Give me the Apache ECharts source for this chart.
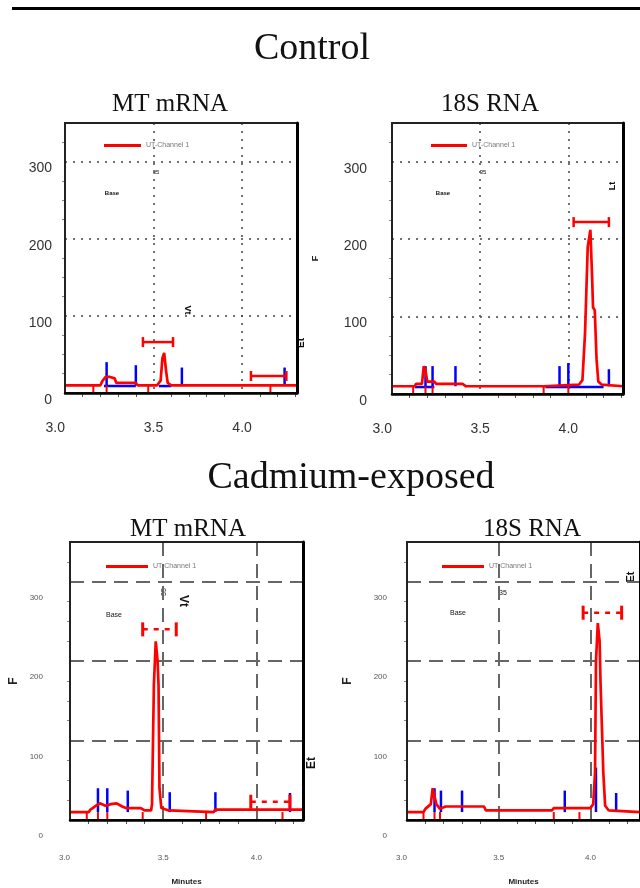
<!DOCTYPE html>
<html>
<head>
<meta charset="utf-8">
<script src="https://cdn.jsdelivr.net/npm/echarts@6/dist/echarts.min.js"></script>
<style>
html,body{margin:0;padding:0;background:#fff;}
#chart{width:640px;height:888px;}
</style>
</head>
<body>
<div id="chart"></div>
<script>
// ---------- data ----------
const groupTitles = ['Control', 'Cadmium-exposed'];
const panelTitles = ['MT mRNA', '18S RNA', 'MT mRNA', '18S RNA'];
const xTickLabels = ['3.0', '3.5', '4.0'];
const yTickLabels = ['0', '100', '200', '300'];
const legendName = 'UT-Channel 1';
const xAxisName = 'Minutes';

// Control, MT mRNA
const ctrlMtX = [3.0, 3.20, 3.21, 3.23, 3.25, 3.28, 3.29, 3.40, 3.41, 3.52, 3.54, 3.55, 3.56, 3.57, 3.58, 3.60, 4.31];
const ctrlMtY = [10, 10, 15, 21, 21, 19, 13, 13, 10, 10, 16, 45, 52, 30, 13, 10, 10];
const ctrlMtBlueX = [3.235, 3.40, 3.66, 4.24];
const ctrlMtBlueTop = [40, 36, 33, 33];
const ctrlMtBlueSegA = [3.22, 3.53];
const ctrlMtBlueSegB = [3.40, 3.60];
const ctrlMtDropX = [3.16, 3.235, 3.47, 4.16];
const ctrlMtBrX1 = [3.44, 4.05];
const ctrlMtBrX2 = [3.61, 4.25];
const ctrlMtBrY = [66, 22];

// Control, 18S RNA
const ctrl18X = [3.0, 3.13, 3.135, 3.17, 3.18, 3.19, 3.20, 3.24, 3.25, 3.40, 3.42, 3.86, 3.87, 4.06, 4.08, 4.095, 4.11, 4.125, 4.135, 4.14, 4.15, 4.16, 4.17, 4.19, 4.31];
const ctrl18Y = [10, 10, 13, 13, 36, 30, 16, 16, 13, 13, 10, 10, 12, 12, 18, 80, 190, 212, 150, 112, 108, 45, 16, 12, 10];
const ctrl18BlueX = [3.19, 3.23, 3.36, 3.95, 4.0, 4.23];
const ctrl18BlueTop = [36, 36, 36, 36, 40, 32];
const ctrl18BlueSegA = [3.13, 3.87, 4.0];
const ctrl18BlueSegB = [3.24, 4.0, 4.2];
const ctrl18DropX = [3.12, 3.19, 3.23, 3.86, 4.0];
const ctrl18BrX1 = [4.03];
const ctrl18BrX2 = [4.23];
const ctrl18BrY = [222];

// Cadmium, MT mRNA
const cdMtX = [3.0, 3.10, 3.11, 3.14, 3.16, 3.19, 3.22, 3.25, 3.28, 3.30, 3.38, 3.40, 3.435, 3.44, 3.45, 3.46, 3.47, 3.475, 3.48, 3.49, 3.53, 3.54, 3.77, 3.78, 4.25];
const cdMtY = [10, 10, 13, 18, 21, 18, 20, 21, 17, 15, 15, 12, 12, 20, 170, 225, 200, 170, 40, 15, 12, 10, 10, 13, 13];
const cdMtBlueX = [3.15, 3.20, 3.31, 3.535, 3.78, 4.18];
const cdMtBlueTop = [40, 40, 37, 35, 35, 34];
const cdMtDropX = [3.09, 3.15, 3.20, 3.39, 3.73, 4.14];
const cdMtBrX1 = [3.39, 3.97];
const cdMtBrX2 = [3.57, 4.18];
const cdMtBrY = [240, 23];

// Cadmium, 18S RNA
const cd18X = [3.0, 3.09, 3.10, 3.13, 3.14, 3.15, 3.16, 3.18, 3.21, 3.42, 3.43, 3.79, 3.80, 4.0, 4.015, 4.025, 4.03, 4.04, 4.05, 4.055, 4.065, 4.07, 4.08, 4.10, 4.27];
const cd18Y = [10, 10, 14, 20, 40, 38, 20, 14, 17, 17, 12, 12, 15, 15, 20, 60, 200, 248, 225, 172, 172, 60, 18, 12, 10];
const cd18BlueX = [3.15, 3.185, 3.30, 3.86, 4.03, 4.14];
const cd18BlueTop = [40, 37, 37, 37, 66, 34];
const cd18DropX = [3.09, 3.15, 3.18, 3.80, 3.94];
const cd18BrX1 = [3.96];
const cd18BrX2 = [4.17];
const cd18BrY = [261];

const baseline = 10;

// ---------- helpers ----------
function pairs(xs, ys) { return xs.map((x, i) => [x, ys[i]]); }
function vticks(xs, tops, base) { return xs.map((x, i) => [x, tops[i], base]); }
function drops(xs, base) { return xs.map(x => [x, base, 0]); }
function hsegs(a, b, y) { return a.map((x, i) => [x, b[i], y]); }
function brackets(x1, x2, ys) { return x1.map((x, i) => [x, x2[i], ys[i]]); }

function vtickSeries(idx, data, color, width) {
  return {
    type: 'custom', xAxisIndex: idx, yAxisIndex: idx, clip: true, silent: true,
    data: data,
    renderItem: function (params, api) {
      const p1 = api.coord([api.value(0), api.value(1)]);
      const p2 = api.coord([api.value(0), api.value(2)]);
      return { type: 'line', shape: { x1: p1[0], y1: p1[1], x2: p2[0], y2: p2[1] },
        style: { stroke: color, lineWidth: width } };
    }
  };
}
function hsegSeries(idx, data, color, width) {
  return {
    type: 'custom', xAxisIndex: idx, yAxisIndex: idx, clip: true, silent: true,
    data: data,
    renderItem: function (params, api) {
      const p1 = api.coord([api.value(0), api.value(2)]);
      const p2 = api.coord([api.value(1), api.value(2)]);
      return { type: 'line', shape: { x1: p1[0], y1: p1[1], x2: p2[0], y2: p2[1] },
        style: { stroke: color, lineWidth: width } };
    }
  };
}
function bracketSeries(idx, data, dashed) {
  return {
    type: 'custom', xAxisIndex: idx, yAxisIndex: idx, clip: true, silent: true,
    data: data,
    renderItem: function (params, api) {
      const p1 = api.coord([api.value(0), api.value(2)]);
      const p2 = api.coord([api.value(1), api.value(2)]);
      const h = dashed ? 7 : 5;
      const cw = dashed ? 3 : 2.5;
      return { type: 'group', children: [
        { type: 'line', shape: { x1: p1[0], y1: p1[1], x2: p2[0], y2: p2[1] },
          style: { stroke: '#ff0000', lineWidth: 2.5, lineDash: dashed ? [5, 6] : null } },
        { type: 'line', shape: { x1: p1[0], y1: p1[1] - h, x2: p1[0], y2: p1[1] + h },
          style: { stroke: '#ff0000', lineWidth: cw } },
        { type: 'line', shape: { x1: p2[0], y1: p2[1] - h, x2: p2[0], y2: p2[1] + h },
          style: { stroke: '#ff0000', lineWidth: cw } }
      ] };
    }
  };
}
function traceSeries(idx, xs, ys) {
  return { name: legendName, type: 'line', xAxisIndex: idx, yAxisIndex: idx,
    data: pairs(xs, ys), symbol: 'none', silent: true, clip: true, z: 3,
    lineStyle: { color: '#ff0000', width: 2.7 }, itemStyle: { color: '#ff0000' } };
}

// ---------- layout ----------
const grids = [
  { left: 65, top: 123, width: 232, height: 270 },
  { left: 392, top: 123, width: 231, height: 271 },
  { left: 70, top: 542, width: 233, height: 278 },
  { left: 407, top: 542, width: 238, height: 278 }
];
const xMax = [4.31, 4.31, 4.25, 4.27];
const yMax = 350;
const big = [true, true, false, false];
const yLabelMargin = [13, 25, 27, 20];

const gridLineStyle = i => big[i]
  ? { color: '#444', width: 1.5, type: [2, 6] }
  : { color: '#666', width: 2, type: [14, 8] };

const xAxes = grids.map((g, i) => ({
  type: 'value', gridIndex: i, min: 3.0, max: xMax[i], interval: 0.5, position: 'bottom',
  name: big[i] ? '' : xAxisName, nameLocation: 'middle', nameGap: 58,
  nameTextStyle: { fontSize: 8, fontWeight: 'bold', color: '#222', fontFamily: 'Liberation Sans' },
  axisLine: { show: false },
  axisTick: { show: false },
  minorTick: { show: true, splitNumber: 5, length: 4, lineStyle: { color: '#555', width: 1 } },
  axisLabel: {
    margin: big[i] ? 28 : 34, fontSize: big[i] ? 14 : 8, color: big[i] ? '#333' : '#555',
    fontFamily: 'Liberation Sans', alignMinLabel: 'right', showMaxLabel: false,
    formatter: v => { const s = v.toFixed(1); return xTickLabels.includes(s) ? s : ''; }
  },
  splitLine: { show: true, lineStyle: gridLineStyle(i) }
}));
// top frame lines
grids.forEach((g, i) => xAxes.push({
  type: 'value', gridIndex: i, min: 3.0, max: xMax[i], position: 'top', z: 11,
  axisLine: { show: true, lineStyle: { color: '#000', width: 2.5 } },
  axisTick: { show: false }, axisLabel: { show: false }, splitLine: { show: false }
}));

const yAxes = grids.map((g, i) => ({
  type: 'value', gridIndex: i, min: 0, max: yMax, interval: 100, position: 'left',
  name: i === 0 ? '' : 'F', nameLocation: 'middle', nameRotate: 90,
  nameGap: [0, 72, 50, 53][i],
  nameTextStyle: { fontSize: i === 1 ? 9 : 12, fontWeight: 'bold', color: '#222', fontFamily: 'Liberation Sans' },
  axisLine: { show: false },
  axisTick: { show: false },
  minorTick: { show: true, splitNumber: 4, length: 3, lineStyle: { color: '#888', width: 1 } },
  axisLabel: {
    margin: yLabelMargin[i], fontSize: big[i] ? 14 : 8, color: big[i] ? '#333' : '#555',
    fontFamily: 'Liberation Sans', verticalAlign: 'top', padding: big[i] ? [0, 0, 0, 0] : [12, 0, 0, 0],
    showMaxLabel: false,
    formatter: v => { const s = String(Math.round(v)); return yTickLabels.includes(s) ? s : ''; }
  },
  splitLine: { show: true, lineStyle: gridLineStyle(i) }
}));
// right frame lines
grids.forEach((g, i) => yAxes.push({
  type: 'value', gridIndex: i, min: 0, max: yMax, position: 'right', z: 11,
  axisLine: { show: true, lineStyle: { color: '#000', width: 3 } },
  axisTick: { show: false }, axisLabel: { show: false }, splitLine: { show: false }
}));

// frame drawn above the grid lines
const gridOpts = grids.map(g => Object.assign({ show: true, z: 10, borderColor: '#222', borderWidth: 2, backgroundColor: 'transparent' }, g));

const legendPos = [
  { left: 104, top: 142, w: 37 },
  { left: 431, top: 142, w: 36 },
  { left: 106, top: 563, w: 42 },
  { left: 442, top: 563, w: 42 }
];
const legends = legendPos.map(p => ({
  data: [legendName], left: p.left, top: p.top, icon: 'rect', itemWidth: p.w, itemHeight: 3,
  itemGap: 4, selectedMode: false, padding: 0,
  textStyle: { fontSize: 7, color: '#777', fontFamily: 'Liberation Sans', padding: [1, 0, 0, 0] }
}));

const series = [
  // panel 0
  hsegSeries(0, hsegs(ctrlMtBlueSegA, ctrlMtBlueSegB, baseline - 1), '#0000ff', 2.5),
  vtickSeries(0, vticks(ctrlMtBlueX, ctrlMtBlueTop, baseline), '#0000ff', 2.5),
  traceSeries(0, ctrlMtX, ctrlMtY),
  vtickSeries(0, drops(ctrlMtDropX, baseline), '#ff0000', 2),
  bracketSeries(0, brackets(ctrlMtBrX1, ctrlMtBrX2, ctrlMtBrY), false),
  // panel 1
  hsegSeries(1, hsegs(ctrl18BlueSegA, ctrl18BlueSegB, baseline - 1), '#0000ff', 2.5),
  vtickSeries(1, vticks(ctrl18BlueX, ctrl18BlueTop, baseline), '#0000ff', 2.5),
  traceSeries(1, ctrl18X, ctrl18Y),
  vtickSeries(1, drops(ctrl18DropX, baseline), '#ff0000', 2),
  bracketSeries(1, brackets(ctrl18BrX1, ctrl18BrX2, ctrl18BrY), false),
  // panel 2
  vtickSeries(2, vticks(cdMtBlueX, cdMtBlueTop, baseline), '#0000ff', 2.5),
  traceSeries(2, cdMtX, cdMtY),
  vtickSeries(2, drops(cdMtDropX, baseline), '#ff0000', 2),
  bracketSeries(2, brackets(cdMtBrX1, cdMtBrX2, cdMtBrY), true),
  // panel 3
  vtickSeries(3, vticks(cd18BlueX, cd18BlueTop, baseline), '#0000ff', 2.5),
  traceSeries(3, cd18X, cd18Y),
  vtickSeries(3, drops(cd18DropX, baseline), '#ff0000', 2),
  bracketSeries(3, brackets(cd18BrX1, cd18BrX2, cd18BrY), true)
];

const serif = 'Liberation Serif';
function txt(x, y, s, size) {
  return { type: 'text', x: x, y: y,
    style: { text: s, font: size + 'px ' + serif, fill: '#111', align: 'center', verticalAlign: 'middle' } };
}
function small(x, y, s, size, bold, rot) {
  return { type: 'text', x: x, y: y, rotation: rot || 0,
    style: { text: s, font: (bold ? 'bold ' : '') + size + 'px Liberation Sans', fill: '#111', align: 'center', verticalAlign: 'middle' } };
}

const graphics = [
  { type: 'line', shape: { x1: 12, y1: 8.5, x2: 640, y2: 8.5 }, style: { stroke: '#000', lineWidth: 3 } },
  txt(312, 49, groupTitles[0], 38),
  txt(351, 478, groupTitles[1], 38),
  txt(170, 104, panelTitles[0], 25),
  txt(490, 104, panelTitles[1], 25),
  txt(188, 529, panelTitles[2], 25),
  txt(532, 529, panelTitles[3], 25),
  // small annotations copied from the instrument print-out
  small(112, 193, 'Base', 6, true),
  small(156, 172, '35', 6, false),
  small(187, 310, 'Vt', 9, true, -Math.PI / 2),
  small(301, 343, 'Et', 10, true, Math.PI / 2),
  small(443, 193, 'Base', 6, true),
  small(483, 172, '35', 6, false),
  small(613, 186, 'Lt', 9, true, Math.PI / 2),
  small(114, 615, 'Base', 7, false),
  small(164, 592, '35', 7, false, Math.PI / 2),
  small(183, 601, 'Vt', 12, true, -Math.PI / 2),
  small(312, 763, 'Et', 12, true, Math.PI / 2),
  small(458, 613, 'Base', 7, false),
  small(503, 593, '35', 7, false),
  small(631, 577, 'Et', 11, true, Math.PI / 2)
];

const chart = echarts.init(document.getElementById('chart'), null, { renderer: 'canvas' });
chart.setOption({
  animation: false,
  backgroundColor: '#fff',
  grid: gridOpts,
  xAxis: xAxes,
  yAxis: yAxes,
  legend: legends,
  series: series,
  graphic: graphics
});
</script>
</body>
</html>
